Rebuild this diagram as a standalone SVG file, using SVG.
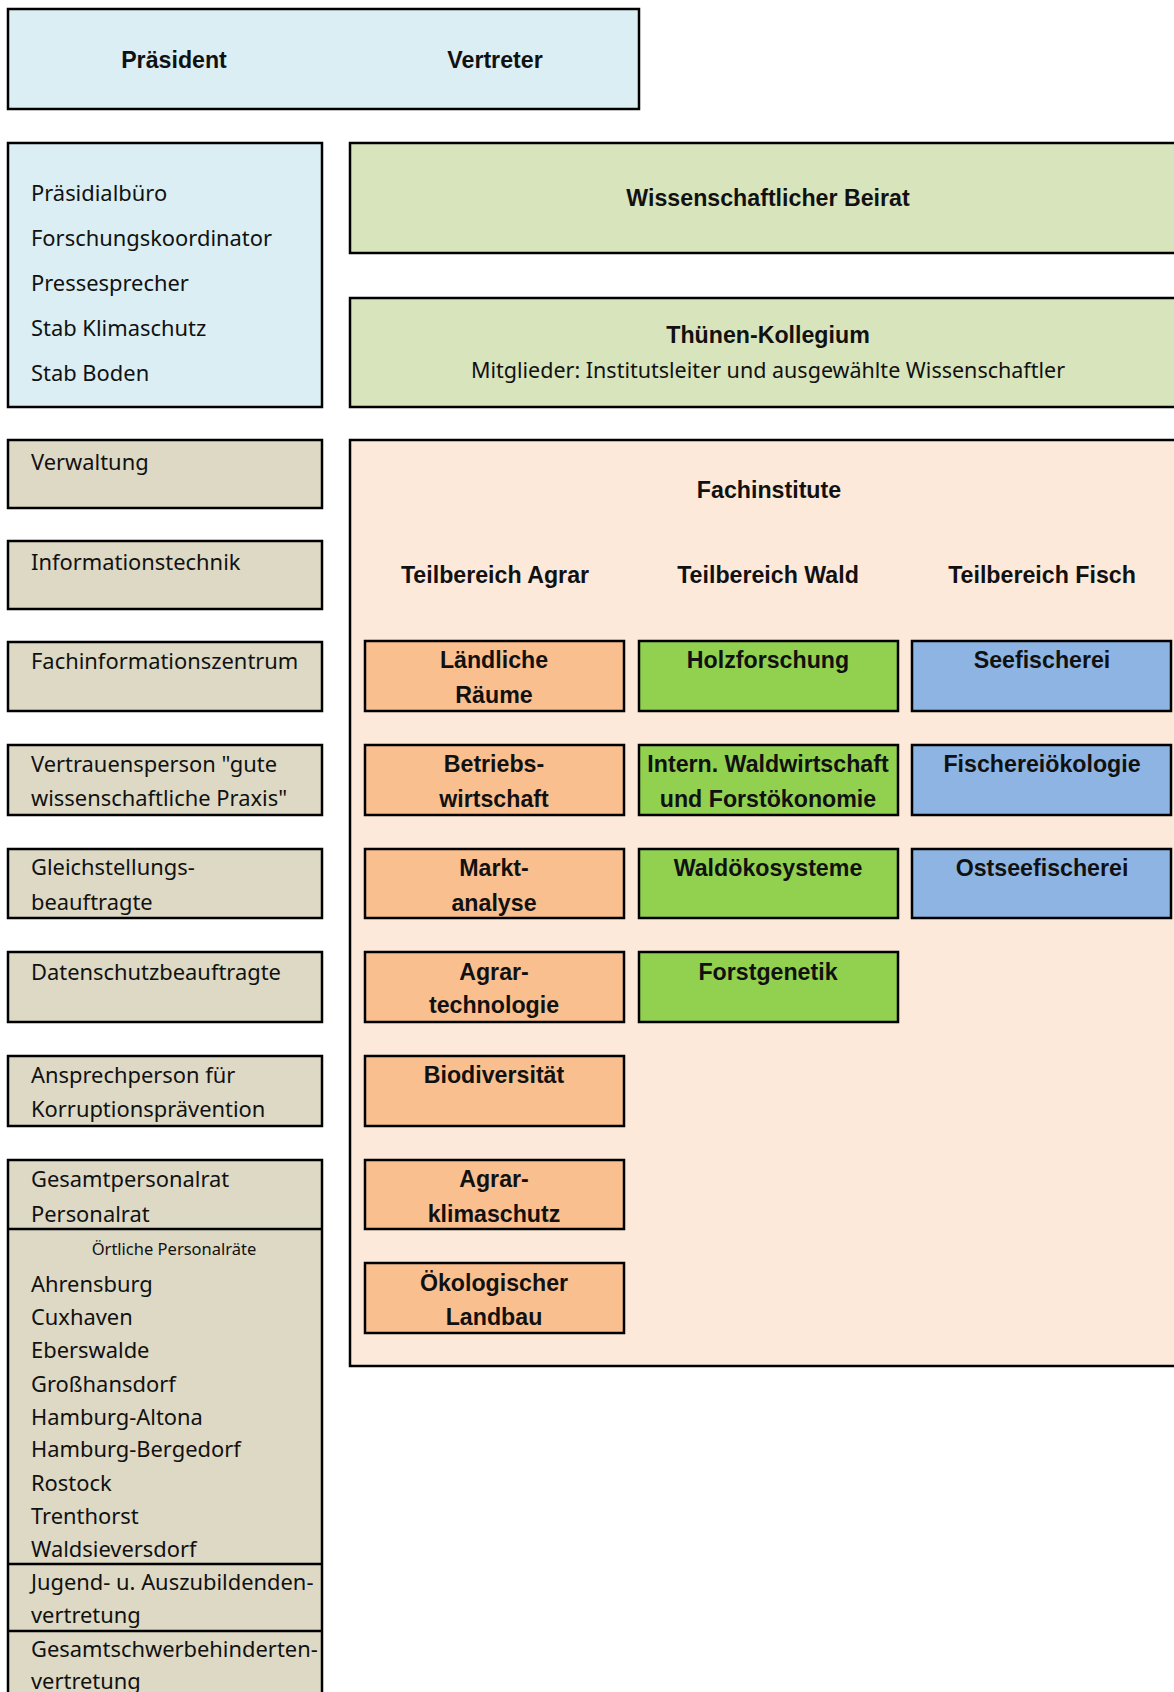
<svg xmlns="http://www.w3.org/2000/svg" width="1174" height="1692" viewBox="0 0 1174 1692">
<style>
rect{stroke:#000;stroke-width:2.5}
.blue{fill:#DAEEF3}
.lg{fill:#D8E4BC}
.beige{fill:#DDD9C4}
.fi{fill:#FDE9D9}
.or{fill:#FABF8F}
.gr{fill:#92D050}
.bl{fill:#8DB4E2}
text{fill:#111}
.r{font-family:"Noto Sans","Liberation Sans",sans-serif;font-size:21.9px}
.m{font-family:"Noto Sans","Liberation Sans",sans-serif;font-size:21.5px;text-anchor:middle}
.s{font-family:"Noto Sans","Liberation Sans",sans-serif;font-size:16.5px}
.b{font-family:"Liberation Sans",Arial,sans-serif;font-size:23.2px;font-weight:bold;text-anchor:middle}
.c{text-anchor:middle}
line{stroke:#000;stroke-width:2.5}
</style>
<rect width="1174" height="1692" fill="#fff" style="stroke:none"/>
<g id="leitung">
<rect class="blue" x="8" y="9" width="631" height="100"/>
<text class="b" x="174" y="68">Präsident</text>
<text class="b" x="495" y="68">Vertreter</text>
</g>
<g id="stab">
<rect class="blue" x="8" y="143" width="314" height="264"/>
<text class="r" x="31" y="201">Präsidialbüro</text>
<text class="r" x="31" y="246">Forschungskoordinator</text>
<text class="r" x="31" y="291">Pressesprecher</text>
<text class="r" x="31" y="336">Stab Klimaschutz</text>
<text class="r" x="31" y="381">Stab Boden</text>
</g>
<g id="beirat">
<rect class="lg" x="350" y="143" width="840" height="110"/>
<text class="b" x="768" y="206">Wissenschaftlicher Beirat</text>
</g>
<g id="kollegium">
<rect class="lg" x="350" y="298" width="840" height="109"/>
<text class="b" x="768" y="343">Thünen-Kollegium</text>
<text class="m" x="768" y="378">Mitglieder: Institutsleiter und ausgewählte Wissenschaftler</text>
</g>
<g id="verwaltung">
<rect class="beige" x="8" y="440" width="314" height="68"/>
<text class="r" x="31" y="470">Verwaltung</text>
</g>
<g id="informationstechnik">
<rect class="beige" x="8" y="541" width="314" height="68"/>
<text class="r" x="31" y="570">Informationstechnik</text>
</g>
<g id="fachinformationszentrum">
<rect class="beige" x="8" y="642" width="314" height="69"/>
<text class="r" x="31" y="669">Fachinformationszentrum</text>
</g>
<g id="vertrauensperson">
<rect class="beige" x="8" y="745" width="314" height="70"/>
<text class="r" x="31" y="772">Vertrauensperson "gute</text>
<text class="r" x="31" y="806">wissenschaftliche Praxis"</text>
</g>
<g id="gleichstellung">
<rect class="beige" x="8" y="849" width="314" height="69"/>
<text class="r" x="31" y="875">Gleichstellungs-</text>
<text class="r" x="31" y="910">beauftragte</text>
</g>
<g id="datenschutz">
<rect class="beige" x="8" y="952" width="314" height="70"/>
<text class="r" x="31" y="980">Datenschutzbeauftragte</text>
</g>
<g id="korruption">
<rect class="beige" x="8" y="1056" width="314" height="70"/>
<text class="r" x="31" y="1083">Ansprechperson für</text>
<text class="r" x="31" y="1117">Korruptionsprävention</text>
</g>
<g id="personalrat">
<rect class="beige" x="8" y="1160" width="314" height="560"/>
<line x1="8" y1="1229" x2="322" y2="1229"/>
<line x1="8" y1="1564" x2="322" y2="1564"/>
<line x1="8" y1="1631" x2="322" y2="1631"/>
<text class="r" x="31" y="1187">Gesamtpersonalrat</text>
<text class="r" x="31" y="1222">Personalrat</text>
<text class="s c" x="174" y="1255">Örtliche Personalräte</text>
<text class="r" x="31" y="1292">Ahrensburg</text>
<text class="r" x="31" y="1325">Cuxhaven</text>
<text class="r" x="31" y="1358">Eberswalde</text>
<text class="r" x="31" y="1392">Großhansdorf</text>
<text class="r" x="31" y="1425">Hamburg-Altona</text>
<text class="r" x="31" y="1457">Hamburg-Bergedorf</text>
<text class="r" x="31" y="1491">Rostock</text>
<text class="r" x="31" y="1524">Trenthorst</text>
<text class="r" x="31" y="1557">Waldsieversdorf</text>
<text class="r" x="31" y="1590">Jugend- u. Auszubildenden-</text>
<text class="r" x="31" y="1623">vertretung</text>
<text class="r" x="31" y="1657">Gesamtschwerbehinderten-</text>
<text class="r" x="31" y="1689">vertretung</text>
</g>
<g id="fachinstitute">
<rect class="fi" x="350" y="440" width="840" height="926"/>
<text class="b" x="769" y="498">Fachinstitute</text>
<text class="b" x="495" y="583">Teilbereich Agrar</text>
<text class="b" x="768" y="583">Teilbereich Wald</text>
<text class="b" x="1042" y="583">Teilbereich Fisch</text>
</g>
<g id="laendliche-raeume">
<rect class="or" x="365" y="641" width="259" height="70"/>
<text class="b" x="494" y="668">Ländliche</text>
<text class="b" x="494" y="703">Räume</text>
</g>
<g id="betriebswirtschaft">
<rect class="or" x="365" y="745" width="259" height="70"/>
<text class="b" x="494" y="772">Betriebs-</text>
<text class="b" x="494" y="807">wirtschaft</text>
</g>
<g id="marktanalyse">
<rect class="or" x="365" y="849" width="259" height="69"/>
<text class="b" x="494" y="876">Markt-</text>
<text class="b" x="494" y="911">analyse</text>
</g>
<g id="agrartechnologie">
<rect class="or" x="365" y="952" width="259" height="70"/>
<text class="b" x="494" y="980">Agrar-</text>
<text class="b" x="494" y="1013">technologie</text>
</g>
<g id="biodiversitaet">
<rect class="or" x="365" y="1056" width="259" height="70"/>
<text class="b" x="494" y="1083">Biodiversität</text>
</g>
<g id="agrarklimaschutz">
<rect class="or" x="365" y="1160" width="259" height="69"/>
<text class="b" x="494" y="1187">Agrar-</text>
<text class="b" x="494" y="1222">klimaschutz</text>
</g>
<g id="oekolandbau">
<rect class="or" x="365" y="1263" width="259" height="70"/>
<text class="b" x="494" y="1291">Ökologischer</text>
<text class="b" x="494" y="1325">Landbau</text>
</g>
<g id="holzforschung">
<rect class="gr" x="639" y="641" width="259" height="70"/>
<text class="b" x="768" y="668">Holzforschung</text>
</g>
<g id="waldwirtschaft">
<rect class="gr" x="639" y="745" width="259" height="70"/>
<text class="b" x="768" y="772">Intern. Waldwirtschaft</text>
<text class="b" x="768" y="807">und Forstökonomie</text>
</g>
<g id="waldoekosysteme">
<rect class="gr" x="639" y="849" width="259" height="69"/>
<text class="b" x="768" y="876">Waldökosysteme</text>
</g>
<g id="forstgenetik">
<rect class="gr" x="639" y="952" width="259" height="70"/>
<text class="b" x="768" y="980">Forstgenetik</text>
</g>
<g id="seefischerei">
<rect class="bl" x="912" y="641" width="259" height="70"/>
<text class="b" x="1042" y="668">Seefischerei</text>
</g>
<g id="fischereioekologie">
<rect class="bl" x="912" y="745" width="259" height="70"/>
<text class="b" x="1042" y="772">Fischereiökologie</text>
</g>
<g id="ostseefischerei">
<rect class="bl" x="912" y="849" width="259" height="69"/>
<text class="b" x="1042" y="876">Ostseefischerei</text>
</g>
<g id="connectors"></g>
</svg>
